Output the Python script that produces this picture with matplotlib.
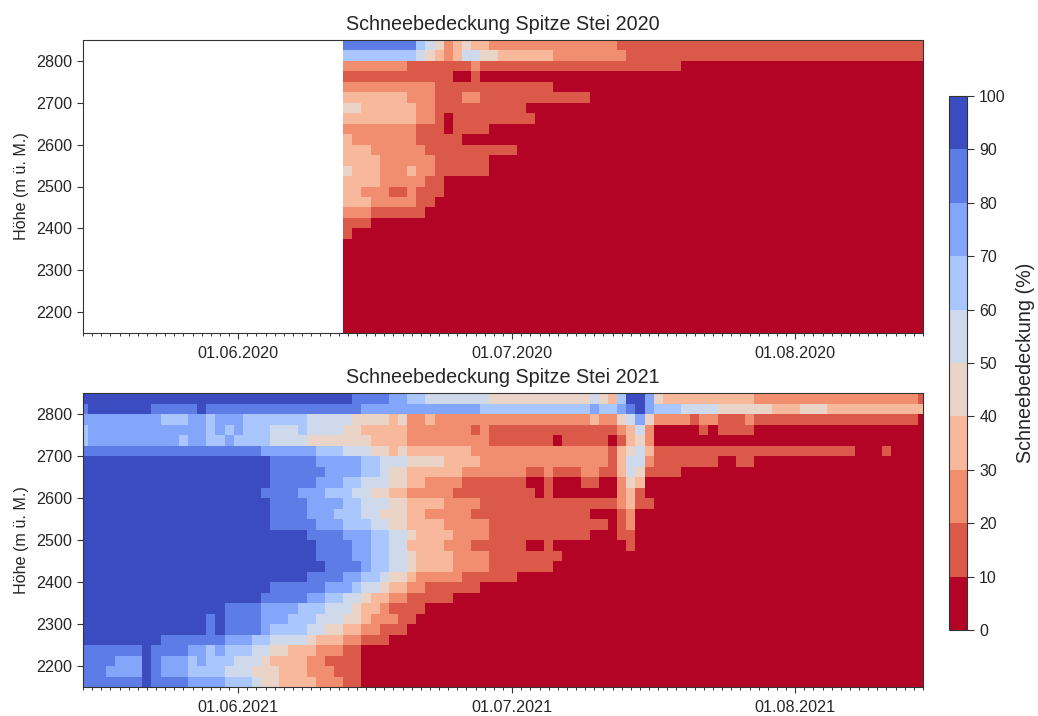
import matplotlib
matplotlib.use('Agg')
import matplotlib.pyplot as plt
import matplotlib.dates as mdates
import numpy as np
import pandas as pd

plt.rcParams['font.family'] = ['Liberation Sans', 'DejaVu Sans']
plt.rcParams['text.color'] = '#262626'
plt.rcParams['axes.labelcolor'] = '#262626'
plt.rcParams['axes.titlecolor'] = '#262626'
plt.rcParams['xtick.color'] = '#333333'
plt.rcParams['ytick.color'] = '#333333'
plt.rcParams['xtick.labelcolor'] = '#262626'
plt.rcParams['ytick.labelcolor'] = '#262626'
plt.rcParams['axes.edgecolor'] = '#333333'

# snow cover in %, rows from top (2837.5 m) to bottom (2162.5 m)
# each row is a list of (value, last day index of the run)
heights = np.arange(2837.5, 2150, -25)

runs_2020 = [
    [(85,36),(65,37),(55,38),(45,39),(25,40),(35,41),(45,42),(35,44),(25,58),(15,92)],
    [(65,36),(55,37),(45,38),(35,39),(25,40),(35,41),(55,43),(45,45),(35,51),(25,59),(15,92)],
    [(25,35),(15,42),(25,43),(15,65),(5,92)],
    [(15,40),(5,42),(15,43),(5,92)],
    [(25,38),(15,51),(5,92)],
    [(35,35),(25,38),(15,41),(25,43),(15,55),(5,92)],
    [(45,30),(35,36),(25,38),(15,48),(5,92)],
    [(35,36),(25,38),(15,39),(5,40),(15,49),(5,92)],
    [(25,36),(15,39),(5,40),(15,44),(5,92)],
    [(35,29),(25,36),(15,41),(5,92)],
    [(35,31),(25,37),(15,47),(5,92)],
    [(35,32),(25,38),(15,44),(5,92)],
    [(45,29),(35,32),(25,35),(35,36),(25,38),(15,44),(5,92)],
    [(35,32),(25,37),(15,39),(5,92)],
    [(35,30),(25,33),(15,35),(25,36),(15,39),(5,92)],
    [(35,31),(25,36),(15,38),(5,92)],
    [(25,31),(15,37),(5,92)],
    [(15,31),(5,92)],
    [(15,29),(5,92)],
    [(5,92)], [(5,92)], [(5,92)], [(5,92)], [(5,92)],
    [(5,92)], [(5,92)], [(5,92)], [(5,92)],
]
first_day_2020 = 29

runs_2021 = [
    [(95,29),(85,33),(75,35),(65,37),(55,44),(45,55),(55,56),(45,57),(35,58),(65,59),(95,61),(75,62),(45,63),(35,73),(25,91),(15,92)],
    [(85,0),(95,7),(85,12),(95,13),(85,30),(75,43),(65,55),(75,56),(65,58),(75,59),(85,60),(95,61),(75,62),(65,65),(55,69),(45,75),(35,78),(45,81),(35,92)],
    [(75,8),(65,11),(75,13),(65,14),(75,17),(65,24),(55,29),(45,33),(35,34),(45,35),(25,37),(35,38),(25,55),(35,56),(25,58),(45,59),(55,60),(75,61),(45,62),(25,66),(15,67),(25,69),(15,72),(25,73),(15,91),(5,92)],
    [(65,0),(75,13),(65,14),(75,15),(65,16),(75,17),(65,20),(55,23),(65,24),(55,28),(45,30),(35,35),(25,42),(15,43),(25,44),(15,58),(25,59),(35,60),(55,61),(25,62),(5,67),(15,68),(5,69),(15,73),(5,92)],
    [(65,0),(75,10),(65,11),(75,13),(65,15),(75,16),(65,20),(55,24),(45,31),(35,35),(25,44),(15,51),(5,52),(15,57),(5,58),(15,59),(35,60),(45,61),(25,62),(5,92)],
    [(85,19),(75,25),(65,28),(55,31),(45,33),(35,34),(45,35),(35,42),(25,57),(15,58),(35,59),(45,60),(55,61),(35,62),(15,84),(5,87),(15,88),(5,92)],
    [(95,20),(85,25),(75,30),(65,32),(55,35),(45,39),(35,43),(25,57),(15,58),(35,59),(55,61),(25,62),(15,69),(5,71),(15,73),(5,92)],
    [(95,20),(85,26),(75,30),(65,32),(55,33),(45,35),(35,41),(25,48),(15,50),(25,51),(15,54),(25,56),(15,58),(35,59),(55,60),(45,61),(15,65),(5,92)],
    [(95,20),(85,25),(75,28),(65,30),(55,33),(45,35),(35,37),(25,41),(15,48),(5,50),(15,51),(5,54),(15,56),(5,58),(25,59),(45,60),(35,61),(5,92)],
    [(95,19),(85,23),(75,26),(65,29),(55,31),(45,33),(35,35),(25,40),(15,49),(5,50),(15,51),(5,58),(25,59),(35,60),(15,61),(5,92)],
    [(95,20),(85,24),(75,28),(65,30),(55,33),(45,35),(35,39),(25,43),(15,58),(25,59),(35,60),(15,62),(5,92)],
    [(95,20),(85,24),(75,27),(65,30),(55,32),(45,35),(35,37),(25,42),(15,55),(5,58),(15,59),(25,60),(5,92)],
    [(95,20),(85,25),(75,28),(65,31),(55,33),(45,35),(35,39),(25,44),(15,57),(5,58),(15,59),(25,60),(5,92)],
    [(95,24),(85,28),(75,31),(65,33),(55,35),(45,36),(35,40),(25,44),(15,55),(5,58),(15,60),(5,92)],
    [(95,25),(85,29),(75,31),(65,33),(55,35),(35,39),(25,42),(15,48),(5,50),(15,51),(5,59),(15,60),(5,92)],
    [(95,25),(85,29),(75,31),(65,33),(55,35),(45,36),(35,40),(25,44),(15,52),(5,92)],
    [(95,26),(85,30),(75,31),(65,33),(55,35),(45,36),(35,40),(25,44),(15,51),(5,92)],
    [(95,24),(85,28),(75,30),(65,32),(55,33),(45,35),(35,36),(25,41),(15,47),(5,92)],
    [(95,20),(85,26),(75,29),(65,30),(55,32),(45,33),(35,35),(25,37),(15,43),(5,92)],
    [(95,19),(85,24),(75,26),(65,28),(55,30),(45,31),(35,33),(25,35),(15,40),(5,92)],
    [(95,15),(85,19),(75,23),(65,26),(55,29),(45,30),(35,32),(25,33),(15,37),(5,92)],
    [(95,13),(85,14),(95,15),(85,19),(75,22),(65,25),(55,28),(45,30),(35,31),(25,34),(15,36),(5,92)],
    [(95,13),(85,14),(95,15),(85,19),(75,20),(65,24),(55,26),(45,28),(35,30),(25,32),(15,35),(5,92)],
    [(95,8),(85,15),(75,18),(65,20),(55,24),(45,25),(35,28),(25,30),(15,33),(5,92)],
    [(85,6),(95,7),(85,11),(75,13),(65,14),(75,15),(65,18),(55,20),(45,22),(35,25),(25,28),(15,30),(5,92)],
    [(85,3),(75,6),(95,7),(85,8),(75,11),(65,12),(75,13),(65,16),(55,19),(45,20),(35,24),(25,26),(15,30),(5,92)],
    [(85,2),(75,6),(95,7),(85,8),(75,11),(65,15),(55,18),(45,21),(35,24),(25,27),(15,30),(5,92)],
    [(85,6),(95,7),(85,11),(75,15),(65,18),(55,19),(45,21),(35,25),(25,28),(15,30),(5,92)],
]
first_day_2021 = 0


def expand(runs, first_day):
    grid = np.full((len(runs), 93), np.nan)
    for i, row in enumerate(runs):
        start = first_day
        for value, last in row:
            grid[i, start:last + 1] = value
            start = last + 1
    return grid


W, H = 1038, 716
fig = plt.figure(figsize=(W / 100, H / 100), dpi=100)
ax1 = fig.add_axes([83 / W, 1 - 333 / H, 840 / W, 293 / H])
ax2 = fig.add_axes([83 / W, 1 - 687 / H, 840 / W, 294 / H])
cax = fig.add_axes([949 / W, 1 - 630 / H, 18 / W, 534 / H])

cmap = plt.get_cmap('coolwarm_r', 10)

for ax, year, runs, first_day in [(ax1, 2020, runs_2020, first_day_2020),
                                  (ax2, 2021, runs_2021, first_day_2021)]:
    days = mdates.date2num(pd.date_range('%d-05-15' % year, '%d-08-15' % year))
    grid = np.ma.masked_invalid(expand(runs, first_day))
    mesh = ax.pcolormesh(days, heights, grid, cmap=cmap, vmin=0, vmax=100, shading='nearest')
    ax.set_xlim(days[0], days[-1])
    ax.set_ylim(2150, 2850)
    ax.set_yticks(np.arange(2200, 2801, 100))
    ax.xaxis.set_major_locator(mdates.MonthLocator())
    ax.xaxis.set_minor_locator(mdates.DayLocator())
    ax.xaxis.set_major_formatter(mdates.DateFormatter('%d.%m.%Y'))
    ax.tick_params(axis='both', which='major', labelsize=11.6, length=4.2, width=0.8, pad=3.5)
    ax.tick_params(axis='x', which='major', pad=5)
    ax.tick_params(axis='x', which='minor', length=2.2, width=0.7)
    ax.set_ylabel('Höhe (m ü. M.)', fontsize=11.6, labelpad=5.5)
    ax.set_title('Schneebedeckung Spitze Stei %d' % year, fontsize=14.2, pad=7)

cbar = fig.colorbar(mesh, cax=cax, ticks=np.arange(0, 101, 10))
cbar.ax.tick_params(labelsize=11.4, length=4.8, width=0.8, pad=4)
cbar.set_label('Schneebedeckung (%)', fontsize=14.2, labelpad=7.5)

fig.savefig('out.png', dpi=100)
